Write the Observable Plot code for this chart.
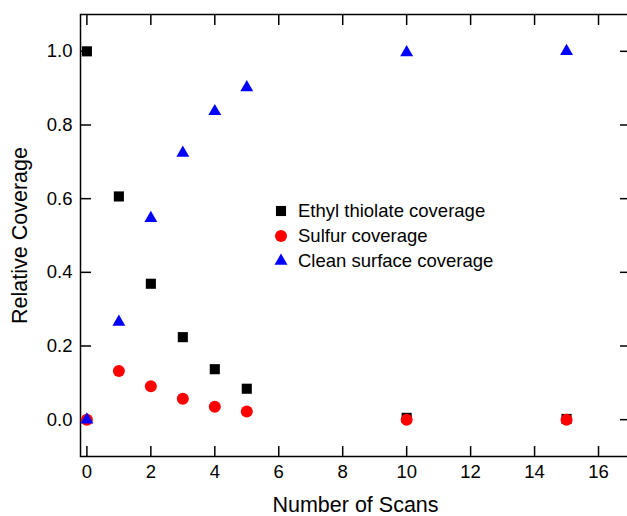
<!DOCTYPE html>
<html>
<head>
<meta charset="utf-8">
<script src="https://cdn.jsdelivr.net/npm/d3@7"></script>
<script src="https://cdn.jsdelivr.net/npm/@observablehq/plot@0.6"></script>
<style>
  html, body { margin: 0; padding: 0; background: #fff; }
  #wrap { position: relative; width: 627px; height: 516px; overflow: hidden; font-family: "Liberation Sans", Arial, sans-serif; }
  #legend { position: absolute; left: 272px; top: 198px; font-size: 18.5px; color: #000; }
  #legend .row { display: flex; align-items: center; height: 25px; }
  #legend svg { width: 18px; height: 16px; margin-right: 8px; overflow: visible; }
</style>
</head>
<body>
<div id="wrap"></div>
<script>
// Data
const scans = [0, 1, 2, 3, 4, 5, 10, 15];
const ethylThiolate = [1.0, 0.606, 0.369, 0.224, 0.137, 0.084, 0.005, 0.002];
const sulfur = [0.0, 0.132, 0.091, 0.057, 0.035, 0.022, 0.0, 0.0];
const cleanSurface = [0.0, 0.265, 0.547, 0.724, 0.837, 0.902, 0.997, 1.0];

const seriesNames = ["Ethyl thiolate coverage", "Sulfur coverage", "Clean surface coverage"];
const seriesValues = [ethylThiolate, sulfur, cleanSurface];
const seriesColors = ["#000000", "#ff0000", "#0000ff"];
const seriesSymbols = ["square", "circle", "triangle"];
const seriesR = [5.7, 6, 4.8];

const xTicks = [0, 2, 4, 6, 8, 10, 12, 14, 16];
const yTicks = [0.0, 0.2, 0.4, 0.6, 0.8, 1.0];

const rows = [];
seriesNames.forEach((name, i) => {
  scans.forEach((s, j) => rows.push({series: name, idx: i, x: s, y: seriesValues[i][j]}));
});

const dotMarks = seriesNames.map((name, i) =>
  Plot.dot(rows.filter(d => d.idx === i), {
    x: "x", y: "y", symbol: () => seriesSymbols[i], r: seriesR[i],
    fill: seriesColors[i], stroke: "none"
  })
);

const chart = Plot.plot({
  width: 627,
  height: 516,
  marginLeft: 80,
  marginRight: -3,
  marginTop: 14,
  marginBottom: 60,
  style: {fontFamily: "Liberation Sans, Arial, sans-serif", fontSize: "18.5px", color: "#000", background: "#fff"},
  x: {domain: [-0.2, 17], ticks: xTicks},
  y: {domain: [-0.1, 1.1], ticks: yTicks},
  symbol: {type: "identity"},
  marks: [
    Plot.frame({stroke: "#000", strokeWidth: 1.5}),
    // inward ticks on all four sides
    Plot.axisX(xTicks, {anchor: "bottom", tickSize: -10, tickFormat: () => "", label: null, strokeWidth: 1.5}),
    Plot.axisX(xTicks, {anchor: "top", tickSize: -10, tickFormat: () => "", label: null, strokeWidth: 1.5}),
    Plot.axisY(yTicks, {anchor: "left", tickSize: -11, tickFormat: () => "", label: null, strokeWidth: 1.5}),
    Plot.axisY(yTicks, {anchor: "right", tickSize: -11, tickFormat: () => "", label: null, strokeWidth: 1.5}),
    // tick labels
    Plot.axisX(xTicks, {anchor: "bottom", tickSize: 0, tickPadding: 8, fontSize: 18.5, label: null}),
    Plot.axisY(yTicks, {anchor: "left", tickSize: 0, tickPadding: 8, fontSize: 18.5, tickFormat: d3.format(".1f"), label: null}),
    // axis titles
    Plot.axisX([], {anchor: "bottom", tickSize: 0, fontSize: 21.5,
      label: "Number of Scans", labelAnchor: "center", labelArrow: "none", labelOffset: 55}),
    Plot.axisY([], {anchor: "left", tickSize: 0, fontSize: 21.5,
      label: "Relative Coverage", labelAnchor: "center", labelArrow: "none", labelOffset: 69}),
    ...dotMarks
  ]
});

const wrap = document.getElementById("wrap");
wrap.appendChild(chart);

// Legend
const legend = document.createElement("div");
legend.id = "legend";
seriesNames.forEach((name, i) => {
  const row = document.createElement("div");
  row.className = "row";
  const svg = d3.create("svg");
  const sym = {square: d3.symbolSquare, circle: d3.symbolCircle, triangle: d3.symbolTriangle}[seriesSymbols[i]];
  svg.append("path")
    .attr("transform", "translate(9,8)")
    .attr("d", d3.symbol(sym, Math.PI * seriesR[i] * seriesR[i])())
    .attr("fill", seriesColors[i]);
  row.appendChild(svg.node());
  const span = document.createElement("span");
  span.textContent = name;
  row.appendChild(span);
  legend.appendChild(row);
});
wrap.appendChild(legend);
</script>
</body>
</html>
